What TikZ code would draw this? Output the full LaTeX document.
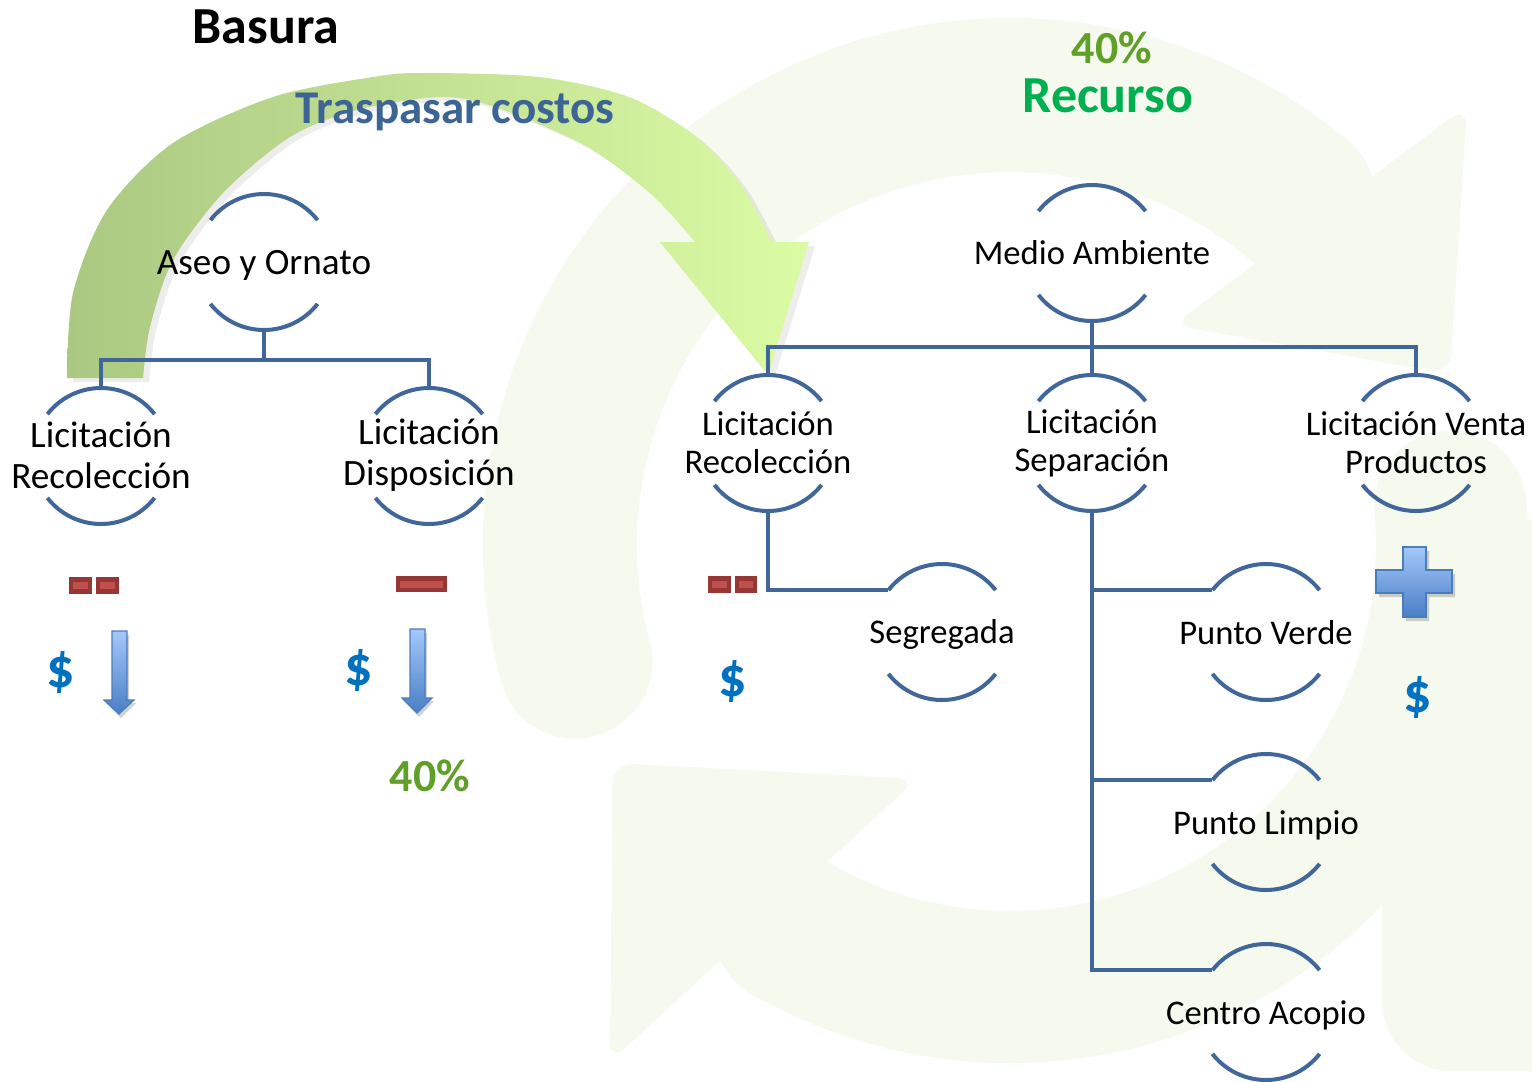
\documentclass[tikz,border=0pt]{standalone}
\usepackage{fontspec}
\setmainfont{Carlito}
\usetikzlibrary{calc}
\definecolor{ringc}{HTML}{41679A}
\definecolor{bgc}{RGB}{245,249,238}
\definecolor{redo}{HTML}{953735}
\definecolor{redi}{HTML}{C0504D}
\definecolor{dollarc}{HTML}{0070C0}
\definecolor{trasc}{HTML}{3C6494}
\definecolor{greenp}{HTML}{60A028}
\definecolor{recc}{HTML}{00B050}
\definecolor{arrL}{HTML}{ABC882}
\definecolor{arrM}{HTML}{CAD9B4}
\definecolor{arrR}{HTML}{DBFBA4}
\definecolor{bluT}{HTML}{A4C8FA}
\definecolor{bluB}{HTML}{4A7EC6}
\definecolor{bluD}{HTML}{4A7EBB}
\tikzset{
  ring/.style={draw=ringc, line width=2pt},
  conn/.style={draw=ringc, line width=2pt},
  lblL/.style={align=center, font=\fontsize{18.6}{20.5}\selectfont, inner sep=0pt},
  lblR/.style={align=center, font=\fontsize{17.3}{19}\selectfont, inner sep=0pt},
  dollar/.style={text=dollarc, font=\bfseries\fontsize{28}{28}\selectfont, inner sep=0pt},
  minusout/.style={fill=redo},
  minusin/.style={fill=redi},
  bluearrow/.style={top color=bluT, bottom color=bluB, draw=bluD, line width=0.6pt},
  blueshadow/.style={fill=black, opacity=0.18},
  bgshape/.style={fill=bgc},
}
% #1 label style, #2 name, #3 ring centre, #4 text, #5 text offset
\newcommand\ringnode[5][lblR]{%
  \coordinate (#2-c) at (#3);
  \node[#1] (#2) at ($(#2-c)+(0,#5)$) {#4};
  \draw[ring] ($(#2-c)+(218:68)$) arc[start angle=218,end angle=322,radius=68];
  \draw[ring] ($(#2-c)+(38:68)$) arc[start angle=38,end angle=142,radius=68];
  \coordinate (#2-t) at ($(#2-c)+(0,-68)$);
  \coordinate (#2-b) at ($(#2-c)+(0,68)$);
  \coordinate (#2-l) at ($(#2-c)+(218:68)$);
}
\begin{document}
\begin{tikzpicture}[x=0.5pt,y=-0.5pt]
\useasboundingbox (0,0) rectangle (1532,1082);
\fill[white] (0,0) rectangle (1532,1082);
% background recycle symbol
\draw[bgc, line width=77pt, line cap=round] (1010,545) ++(165:450) arc[start angle=165,end angle=310,radius=450];
\fill[bgshape, rounded corners=10pt] (1173,325) -- (1467,106) -- (1450,374) -- cycle;
\draw[bgc, line width=76pt, line cap=round] (1010,545) ++(-5:442) arc[start angle=-5,end angle=120,radius=442];
\fill[bgshape, rounded corners=10pt] (613,763) -- (917,779) -- (610,1062) -- cycle;
\fill[bgshape, rounded corners=35pt] (1382,520) rectangle (1620,1071);
% green curved arrow
\fill[black, opacity=0.07, xshift=3pt, yshift=-2pt]
  plot[smooth] coordinates {(67,378) (73,293) (107,210) (173,143) (273,97) (373,77) (423,73) (539,77) (629,97) (695,136) (740,184) (772,242)}
  -- (809,242) -- (768,375) -- (660,242) --
  plot[smooth] coordinates {(695,242) (651,194) (584,145) (495,107) (440,97) (357,110) (290,137) (223,193) (173,260) (150,327) (143,378)} -- cycle;
\shade[left color=arrL, middle color=arrM, right color=arrR]
  plot[smooth] coordinates {(67,378) (73,293) (107,210) (173,143) (273,97) (373,77) (423,73) (539,77) (629,97) (695,136) (740,184) (772,242)}
  -- (809,242) -- (768,375) -- (660,242) --
  plot[smooth] coordinates {(695,242) (651,194) (584,145) (495,107) (440,97) (357,110) (290,137) (223,193) (173,260) (150,327) (143,378)} -- cycle;
% titles
\node[font=\bfseries\fontsize{26}{26}\selectfont, inner sep=0pt] (basura) at (266,27) {Basura};
\node[font=\bfseries\fontsize{23.5}{24}\selectfont, inner sep=0pt, text=trasc] (tras) at (455,112) {Traspasar costos};
\node[font=\bfseries\fontsize{23}{23}\selectfont, inner sep=0pt, text=greenp] (p40a) at (1112,48) {40\%};
\node[font=\bfseries\fontsize{26}{26}\selectfont, inner sep=0pt, text=recc] (recurso) at (1108,96) {Recurso};
\node[font=\bfseries\fontsize{23}{23}\selectfont, inner sep=0pt, text=greenp] (p40b) at (430,776) {40\%};
% nodes
\ringnode[lblL]{aseo}{264,262}{Aseo y Ornato}{3}
\ringnode[lblL]{recL}{101,456}{Licitación\\Recolección}{-1}
\ringnode[lblL]{disp}{429,456}{Licitación\\Disposición}{-1}
\ringnode{medio}{1092,253}{Medio Ambiente}{0}
\ringnode{recR}{768,443}{Licitación\\Recolección}{0}
\ringnode{sep}{1092,443}{Licitación\\Separación}{0}
\ringnode{venta}{1416,443}{Licitación Venta\\Productos}{0}
\ringnode{seg}{942,632}{Segregada}{2}
\ringnode{verde}{1266,632}{Punto Verde}{1}
\ringnode{limpio}{1266,822}{Punto Limpio}{3}
\ringnode{acopio}{1266,1012}{Centro Acopio}{3}
% connectors
\draw[conn] (aseo-b) -- ++(0,28);
\draw[conn] (recL-t) -- ++(0,-28) -| (disp-t);
\draw[conn] (medio-b) -- ++(0,27);
\draw[conn] (recR-t) -- ++(0,-28) -| (venta-t);
\draw[conn] (sep-t) -- ++(0,-28);
\draw[conn] (recR-b) |- (seg-l);
\draw[conn] (sep-b) |- (acopio-l);
\draw[conn] (sep-b |- verde-l) -- (verde-l);
\draw[conn] (sep-b |- limpio-l) -- (limpio-l);
% minus signs
\fill[minusout] (69,577) rectangle (92,594);
\fill[minusout] (96,577) rectangle (119,594);
\fill[minusin] (73,582) rectangle (88,589);
\fill[minusin] (100,582) rectangle (115,589);
\fill[minusout] (396,576) rectangle (447,592);
\fill[minusin] (400,580.5) rectangle (443,587.5);
\fill[minusout] (708,576) rectangle (731,593);
\fill[minusout] (735,576) rectangle (757,593);
\fill[minusin] (712,581) rectangle (727,588);
\fill[minusin] (739,581) rectangle (753,588);
% blue down arrows
\fill[blueshadow] (114,635) -- (129,635) -- (129,703) -- (136,703) -- (121,718) -- (106,703) -- (114,703) -- cycle;
\shade[bluearrow] (112,631) -- (127,631) -- (127,700) -- (134,700) -- (119,714) -- (104,700) -- (112,700) -- cycle;
\fill[blueshadow] (412,633) -- (427,633) -- (427,701) -- (434,701) -- (419,717) -- (404,701) -- (412,701) -- cycle;
\shade[bluearrow] (410,629) -- (425,629) -- (425,698) -- (432,698) -- (417,713) -- (402,698) -- (410,698) -- cycle;
% plus sign
\fill[blueshadow] (1406,551) -- (1429,551) -- (1429,574) -- (1455,574) -- (1455,597) -- (1429,597) -- (1429,621) -- (1406,621) -- (1406,597) -- (1379,597) -- (1379,574) -- (1406,574) -- cycle;
\shade[bluearrow] (1403,547) -- (1426,547) -- (1426,570) -- (1452,570) -- (1452,593) -- (1426,593) -- (1426,617) -- (1403,617) -- (1403,593) -- (1376,593) -- (1376,570) -- (1403,570) -- cycle;
% dollars
\node[dollar] (d1) at (61,672) {\$};
\node[dollar] (d2) at (359,670) {\$};
\node[dollar] (d3) at (733,681) {\$};
\node[dollar] (d4) at (1418,697) {\$};
\end{tikzpicture}
\end{document}
